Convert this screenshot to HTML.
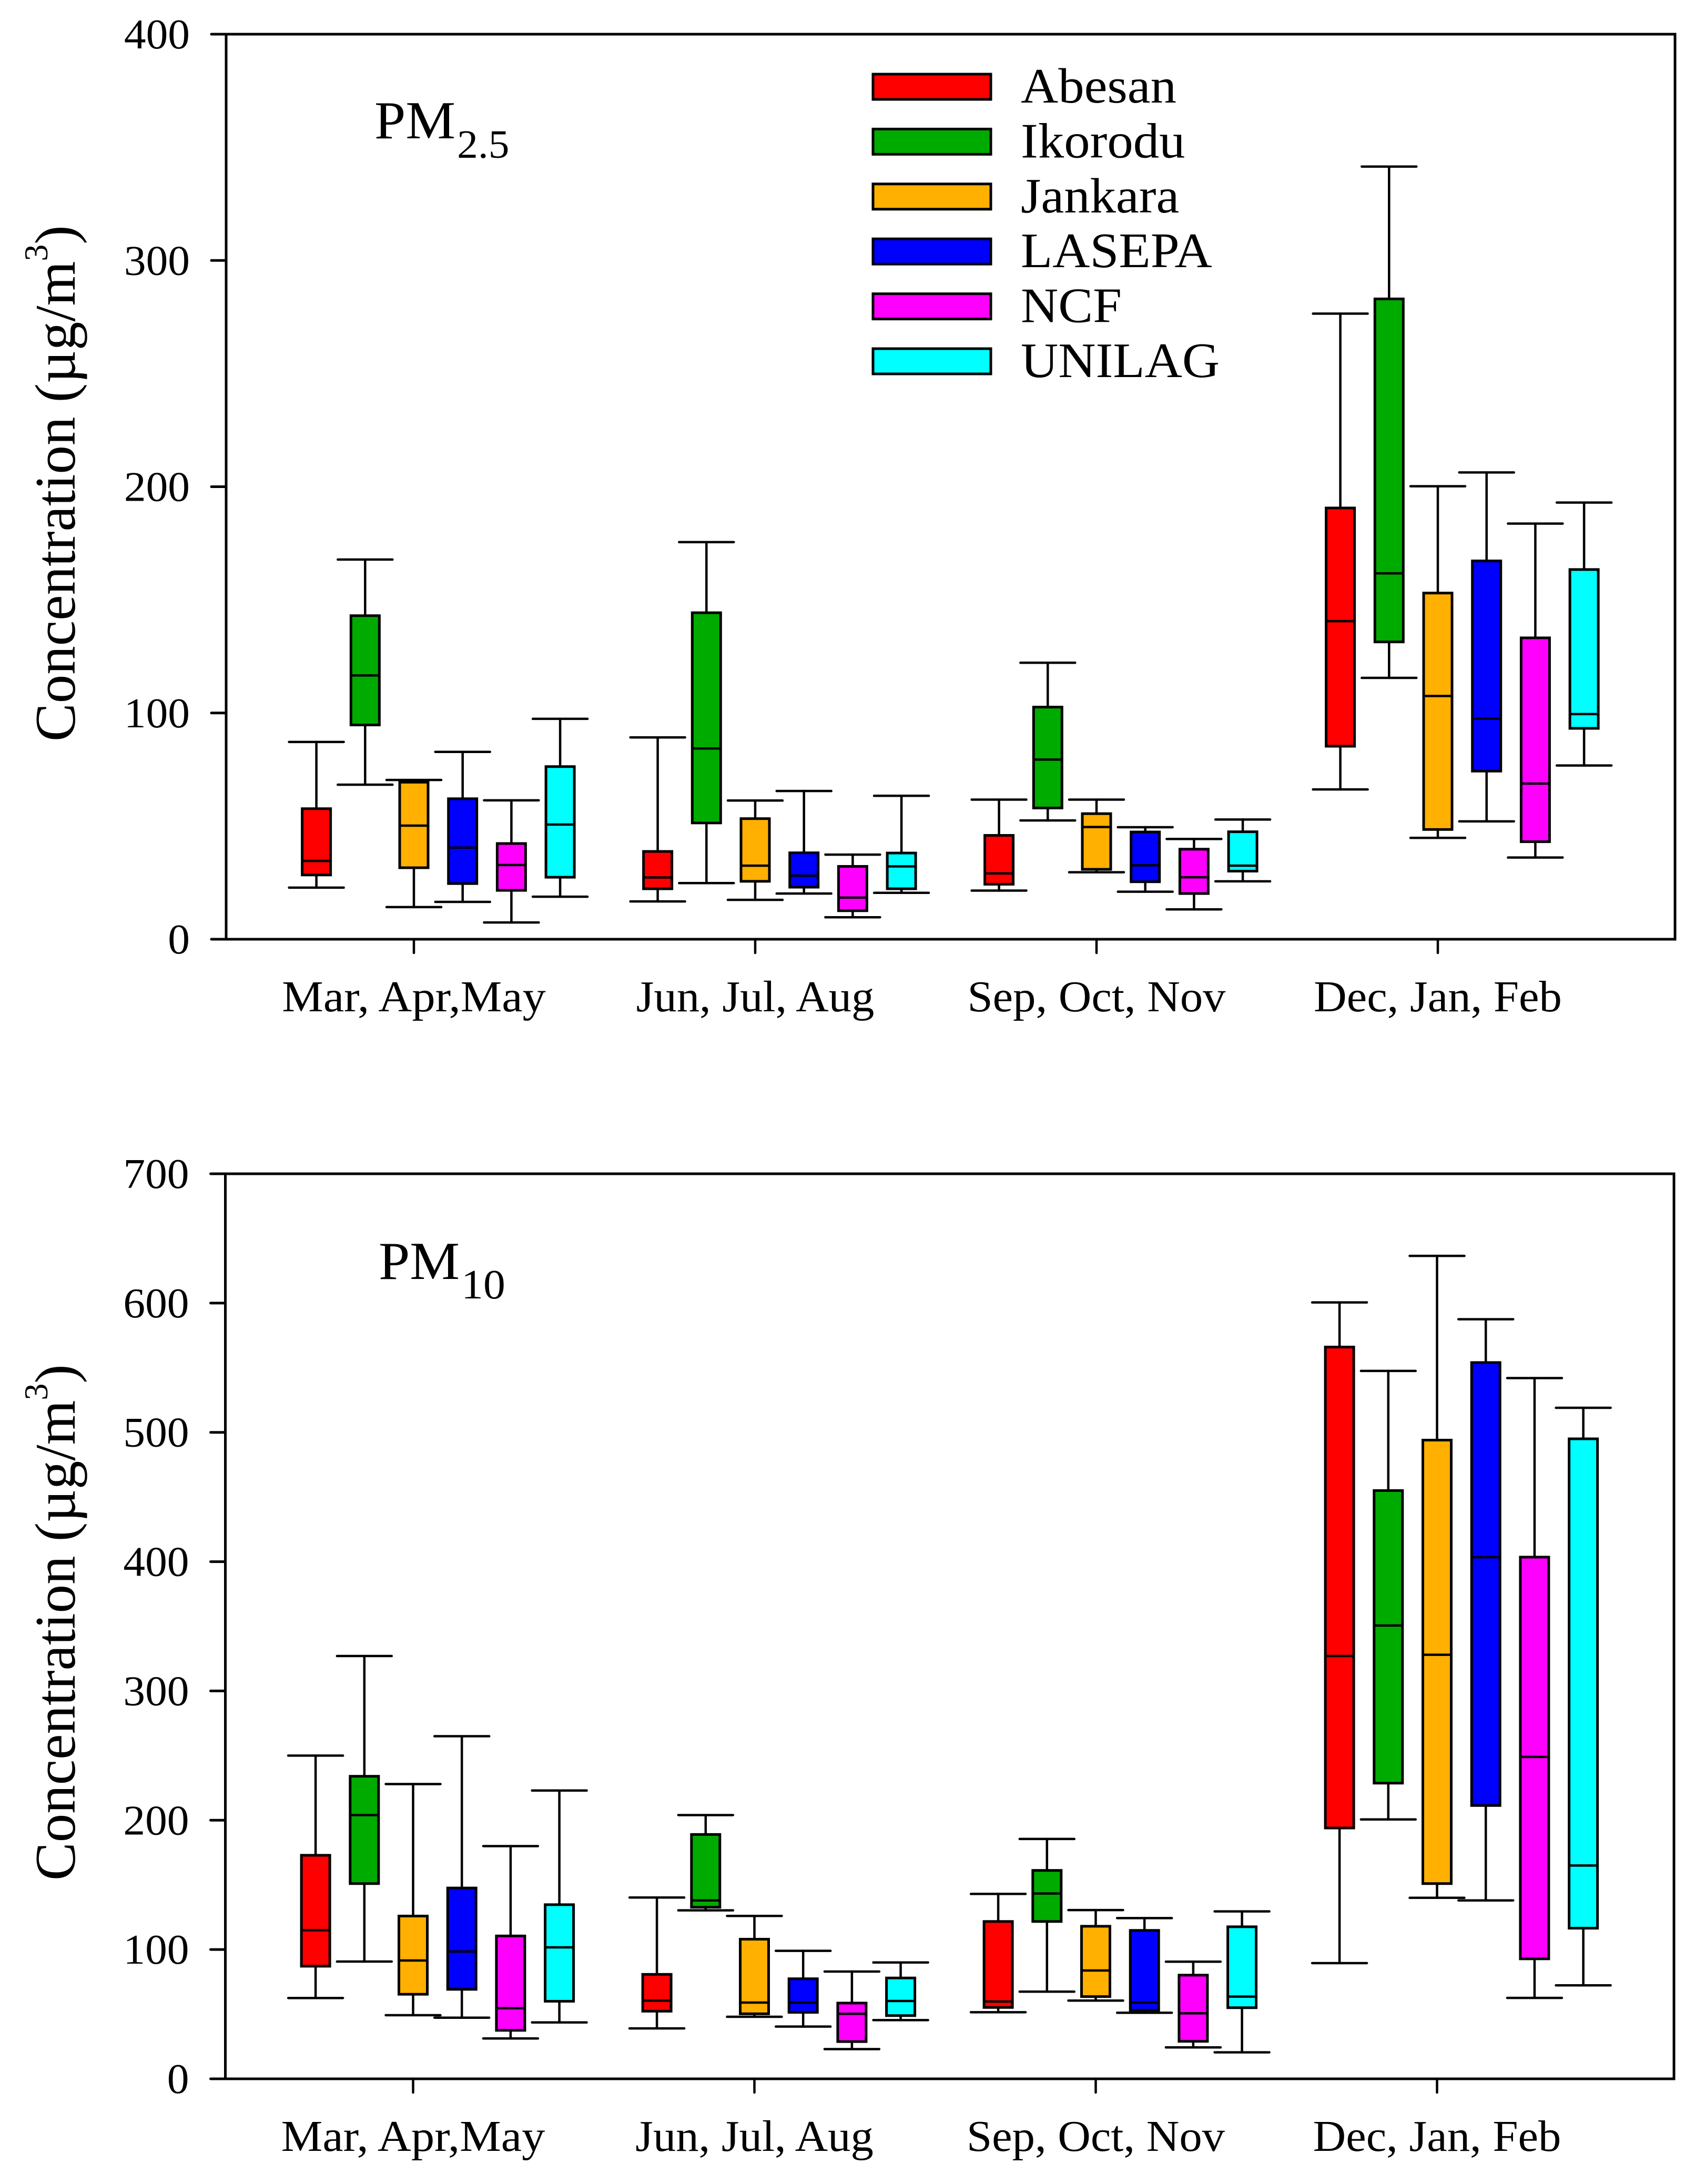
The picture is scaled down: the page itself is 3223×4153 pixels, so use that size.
<!DOCTYPE html>
<html lang="en">
<head>
<meta charset="utf-8">
<title>PM2.5 and PM10 seasonal concentrations</title>
<style>
html,body{margin:0;padding:0;background:#fff;}
svg{display:block;}
text{font-family:"Liberation Serif",serif;fill:#000;}
</style>
</head>
<body>
<svg id="chart" xmlns="http://www.w3.org/2000/svg" width="3223" height="4153" viewBox="0 0 3223 4153"></svg>
<script>
const categories = ["Mar, Apr,May", "Jun, Jul, Aug", "Sep, Oct, Nov", "Dec, Jan, Feb"];
const seriesNames = ["Abesan", "Ikorodu", "Jankara", "LASEPA", "NCF", "UNILAG"];
const seriesColors = ["#ff0000", "#00ab00", "#ffb000", "#0000ff", "#ff00ff", "#00ffff"];
const pm25Ticks = [0, 100, 200, 300, 400];
const pm10Ticks = [0, 100, 200, 300, 400, 500, 600, 700];

// Each row: [upper whisker, Q3, median, Q1, lower whisker], one row per season
const pm25Abesan = [[87.2,57.7,34.6,28.4,22.8],[89.2,38.8,27.3,22.3,16.7],[61.7,45.9,29.1,24.3,21.5],[276.5,190.6,140.6,85.3,66.2]];
const pm25Ikorodu = [[167.8,143,116.6,94.7,68.3],[175.5,144.3,84.3,51.4,24.8],[122.2,102.6,79.4,58,52.5],[341.5,283,161.7,131.4,115.5]];
const pm25Jankara = [[70.4,69.4,50.2,31.6,14.2],[61.3,53.3,32.5,25.6,17.4],[61.7,55.5,49.6,30.9,29.6],[200.2,153,107.5,48.5,44.8]];
const pm25Lasepa = [[82.8,62.1,40.5,24.6,16.5],[65.5,38.2,28.1,23,20.2],[49.5,47.4,32.7,25.4,21],[206.3,167.2,97.5,74.3,52.1]];
const pm25Ncf = [[61.4,42.3,32.8,21.6,7.4],[37.4,32.2,18.4,12.6,9.7],[44.3,39.8,27.4,20.2,13.2],[183.7,133.2,68.8,43.1,36.1]];
const pm25Unilag = [[97.4,76.3,50.7,27.4,18.8],[63.4,38.1,32.2,22.3,20.5],[52.9,47.5,32.5,30.1,25.6],[193,163.4,99.5,93.2,76.8]];

const pm10Abesan = [[250,172.9,114.9,87.1,62.5],[140.2,80.8,60.5,52.3,39],[143,121.7,59.8,55.2,51.5],[600.5,566,327,194,89.5]];
const pm10Ikorodu = [[327,234,204,151,90.7],[204,189,138,132.7,130.3],[185.5,161.2,143.3,121.7,67.4],[547.5,455,350.6,228.7,200.6]];
const pm10Jankara = [[228,125.9,91.5,65.4,49.2],[126,108,59,50.3,48],[130.5,118,83.8,63.6,60.5],[636.5,494,328,151,140]];
const pm10Lasepa = [[265,147.6,98.5,69.2,47.3],[99,77.4,59,51.4,40.4],[124.3,114.8,59,53,51.1],[587.5,554,403.5,211.4,138]];
const pm10Ncf = [[180,110.5,54.6,37.5,31.2],[83,58.6,50.3,28.8,23],[90.6,80.2,50.7,29,24.3],[542,403.5,249,92.8,62.6]];
const pm10Unilag = [[223,134.7,101.7,60,43.6],[90,78,60.2,48.9,45.4],[129.5,117.6,63.6,55,20.5],[519,495,165,116.5,72.3]];

const pm25Series = [pm25Abesan, pm25Ikorodu, pm25Jankara, pm25Lasepa, pm25Ncf, pm25Unilag];
const pm10Series = [pm10Abesan, pm10Ikorodu, pm10Jankara, pm10Lasepa, pm10Ncf, pm10Unilag];

const NS = "http://www.w3.org/2000/svg";
const svg = document.getElementById("chart");

function make(parent, tag, attrs, content) {
  const el = document.createElementNS(NS, tag);
  for (const k in attrs) el.setAttribute(k, attrs[k]);
  if (content !== undefined) el.textContent = content;
  parent.appendChild(el);
  return el;
}

function drawPanel(cfg) {
  const g = make(svg, "g", {});
  
  

  const yScale = v => cfg.bottom - (v / cfg.max) * (cfg.bottom - cfg.top);
  const xGroup = i => cfg.firstTick + i * 649;
  const xBox = (i, s) => xGroup(i) + (s - 2) * 92.7;

  // y tick marks and labels
  cfg.ticks.forEach(t => {
    const y = yScale(t);
    const tick = make(g, "line", {x1: cfg.left - 28, x2: cfg.left, y1: y, y2: y, stroke: "#000", "stroke-width": 5, "stroke-linecap": "round"});
    
    
    const lab = make(g, "text", {transform: "translate(" + (cfg.left - 69) + "," + (y + 27) + ") scale(1.03,1)", "text-anchor": "end", "font-size": 81}, String(t));
    
    
  });

  // x tick marks and labels
  categories.forEach((c, i) => {
    const x = xGroup(i);
    const tick = make(g, "line", {x1: x, x2: x, y1: cfg.bottom, y2: cfg.bottom + 26, stroke: "#000", "stroke-width": 4.5, "stroke-linecap": "round"});
    
    
    const stretch = i === 0 ? 1.06 : 1.038;
    const lab = make(g, "text", {transform: "translate(" + x + "," + cfg.labelY + ") scale(" + stretch + ",1)", "text-anchor": "middle", "font-size": 83.5}, c);
    
    
  });

  // box plots
  cfg.series.forEach((rows, s) => {
    rows.forEach((r, i) => {
      const [hi, q3, med, q1, lo] = r;
      const x = xBox(i, s);
      const box = make(g, "g", {});
      
      
      const ln = {stroke: "#000", "stroke-width": 4.5, "stroke-linecap": "round"};
      const whisker = make(box, "line", Object.assign({x1: x, x2: x, y1: yScale(hi), y2: yScale(lo)}, ln));
      
      
      [hi, lo].forEach(v => {
        const cap = make(box, "line", Object.assign({x1: x - 52, x2: x + 52, y1: yScale(v), y2: yScale(v)}, ln));
        
        
      });
      const rect = make(box, "rect", {x: x - 27, y: yScale(q3), width: 54, height: yScale(q1) - yScale(q3), fill: seriesColors[s], stroke: "#000", "stroke-width": 5});
      
      
      const median = make(box, "line", {x1: x - 27, x2: x + 27, y1: yScale(med), y2: yScale(med), stroke: "#000", "stroke-width": 4.5});
      
      
    });
  });

  // frame
  const frame = make(g, "rect", {x: cfg.left, y: cfg.top, width: cfg.right - cfg.left, height: cfg.bottom - cfg.top, fill: "none", stroke: "#000", "stroke-width": 5});
  
  

  // panel title
  const title = make(g, "text", {transform: "translate(" + cfg.titleX + "," + cfg.titleY + ") scale(1.045,1)", "font-size": 102}, "PM");
  
  
  make(title, "tspan", {"font-size": cfg.subSize, dy: 37, dx: 3}, cfg.sub);

  // y axis title
  const yt = make(g, "text", {transform: "translate(142," + cfg.yTitleStart + ") rotate(-90)", "font-size": 109}, "Concentration (µg/m");
  
  
  make(yt, "tspan", {"font-size": 64, dy: -52}, "3");
  make(yt, "tspan", {dy: 52}, ")");
}

drawPanel({
  key: "pm25", series: pm25Series, ticks: pm25Ticks, max: 400,
  left: 430, right: 3185, top: 65, bottom: 1786, firstTick: 787, labelY: 1923,
  titleX: 712, titleY: 263, sub: "2.5", subSize: 76, yTitleStart: 1410
});
drawPanel({
  key: "pm10", series: pm10Series, ticks: pm10Ticks, max: 700,
  left: 428.5, right: 3183, top: 2232, bottom: 3953, firstTick: 785.5, labelY: 4090,
  titleX: 720, titleY: 2432, sub: "10", subSize: 80, yTitleStart: 3576
});

// legend
const legend = make(svg, "g", {});


seriesNames.forEach((name, s) => {
  const cy = 165 + s * 104.4;
  const entry = make(legend, "g", {});
  
  
  const sw = make(entry, "rect", {x: 1660, y: cy - 24, width: 224, height: 48, fill: seriesColors[s], stroke: "#000", "stroke-width": 5});
  
  
  const t = make(entry, "text", {transform: "translate(1941," + (cy + 30) + ") scale(1.05,1)", "font-size": 94}, name);
  
  
});
</script>
</body>
</html>
